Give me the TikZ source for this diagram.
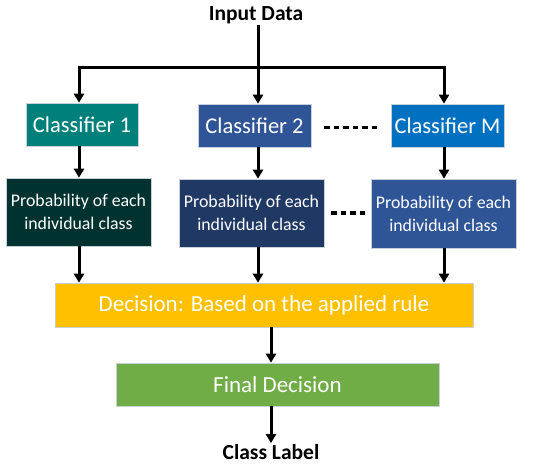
\documentclass[tikz,border=0pt]{standalone}
\usepackage{fontspec}
\setmainfont{Carlito}
\usetikzlibrary{arrows.meta}
\definecolor{cteal}{HTML}{00807A}
\definecolor{cblue}{HTML}{2F5597}
\definecolor{cbright}{HTML}{0070C0}
\definecolor{cdark}{HTML}{003230}
\definecolor{cnavy}{HTML}{203864}
\definecolor{cgold}{HTML}{FFC000}
\definecolor{cgreen}{HTML}{70AD47}
\definecolor{cedge}{HTML}{C8D0DC}
\tikzset{
  box/.style={draw=cedge, line width=0.6pt, text=white, inner sep=0pt, align=center},
  clsbox/.style={box, minimum width=113pt, minimum height=43pt, font=\fontsize{22.5}{24}\selectfont},
  probbox/.style={box, minimum width=145pt, minimum height=68pt, font=\fontsize{17.8}{23}\selectfont},
  wide/.style={box, minimum height=43pt, font=\fontsize{23}{26}\selectfont},
  lbl/.style={font=\fontsize{21.5}{24}\selectfont\bfseries, inner sep=1pt},
  arr/.style={line width=3pt, -{Triangle[length=9pt,width=10pt]}},
  ln/.style={line width=3pt},
  dots/.style={line width=3.5pt, dash pattern=on 5.5pt off 4pt}
}
\begin{document}
\begin{tikzpicture}[x=1pt,y=1pt]
\useasboundingbox (0,0) rectangle (550,468);
% titles
\node[lbl] (in) at (256,453) {Input Data};
\node[lbl] (out) at (271,16) {Class Label};
% classifiers
\node[clsbox, fill=cteal, minimum width=112pt] (c1) at (82,343.5) {Classifier 1};
\node[clsbox, fill=cblue] (c2) at (254.5,342.5) {Classifier 2};
\node[clsbox, fill=cbright] (cm) at (447.5,342.5) {Classifier M};
% probabilities
\node[probbox, fill=cdark] (p1) at (78.5,256) {Probability of each\\individual class};
\node[probbox, fill=cnavy] (p2) at (251.5,255) {Probability of each\\individual class};
\node[probbox, fill=cblue, minimum height=69pt] (pm) at (443.5,254.5) {Probability of each\\individual class};
% decision
\node[wide, fill=cgold, minimum width=418pt, minimum height=44pt] (dec) at (264,163) {Decision: Based on the applied rule};
\node[wide, fill=cgreen, minimum width=323pt] (fin) at (277.5,83.5) {Final Decision};
% column coordinates
\coordinate (a1) at (79,0);
\coordinate (a2) at (258,0);
\coordinate (a3) at (444,0);
\coordinate (a4) at (271,0);
\coordinate (j) at (258,400);
\coordinate (jl) at (79,400);
\coordinate (jr) at (444,400);
% input fan-out
\draw[ln] (in.south -| j) -- (j);
\draw[ln, line join=miter] (c1.north -| a1) ++(0,6) -- (jl) -- (jr) -- ++(0,-6);
\draw[arr] (jl) -- (c1.north -| a1);
\draw[arr] (j) -- (c2.north -| a2);
\draw[arr] (jr) -- (cm.north -| a3);
% classifier to probability
\draw[arr] (c1.south -| a1) -- (p1.north -| a1);
\draw[arr] (c2.south -| a2) -- (p2.north -| a2);
\draw[arr] (cm.south -| a3) -- (pm.north -| a3);
% probability to decision
\draw[arr] (p1.south -| a1) -- (dec.north -| a1);
\draw[arr] (p2.south -| a2) -- (dec.north -| a2);
\draw[arr] (pm.south -| a3) -- (dec.north -| a3);
% decision chain
\draw[arr] (dec.south -| a4) -- (fin.north -| a4);
\draw[arr] (fin.south -| a4) -- (out.north -| a4);
% dotted separators
\coordinate (d1) at (324,340.5);
\coordinate (d2) at (378,340.5);
\coordinate (d3) at (331,255);
\coordinate (d4) at (366,255);
\draw[dots] (d1) -- (d2);
\draw[dots] (d3) -- (d4);
\end{tikzpicture}
\end{document}
